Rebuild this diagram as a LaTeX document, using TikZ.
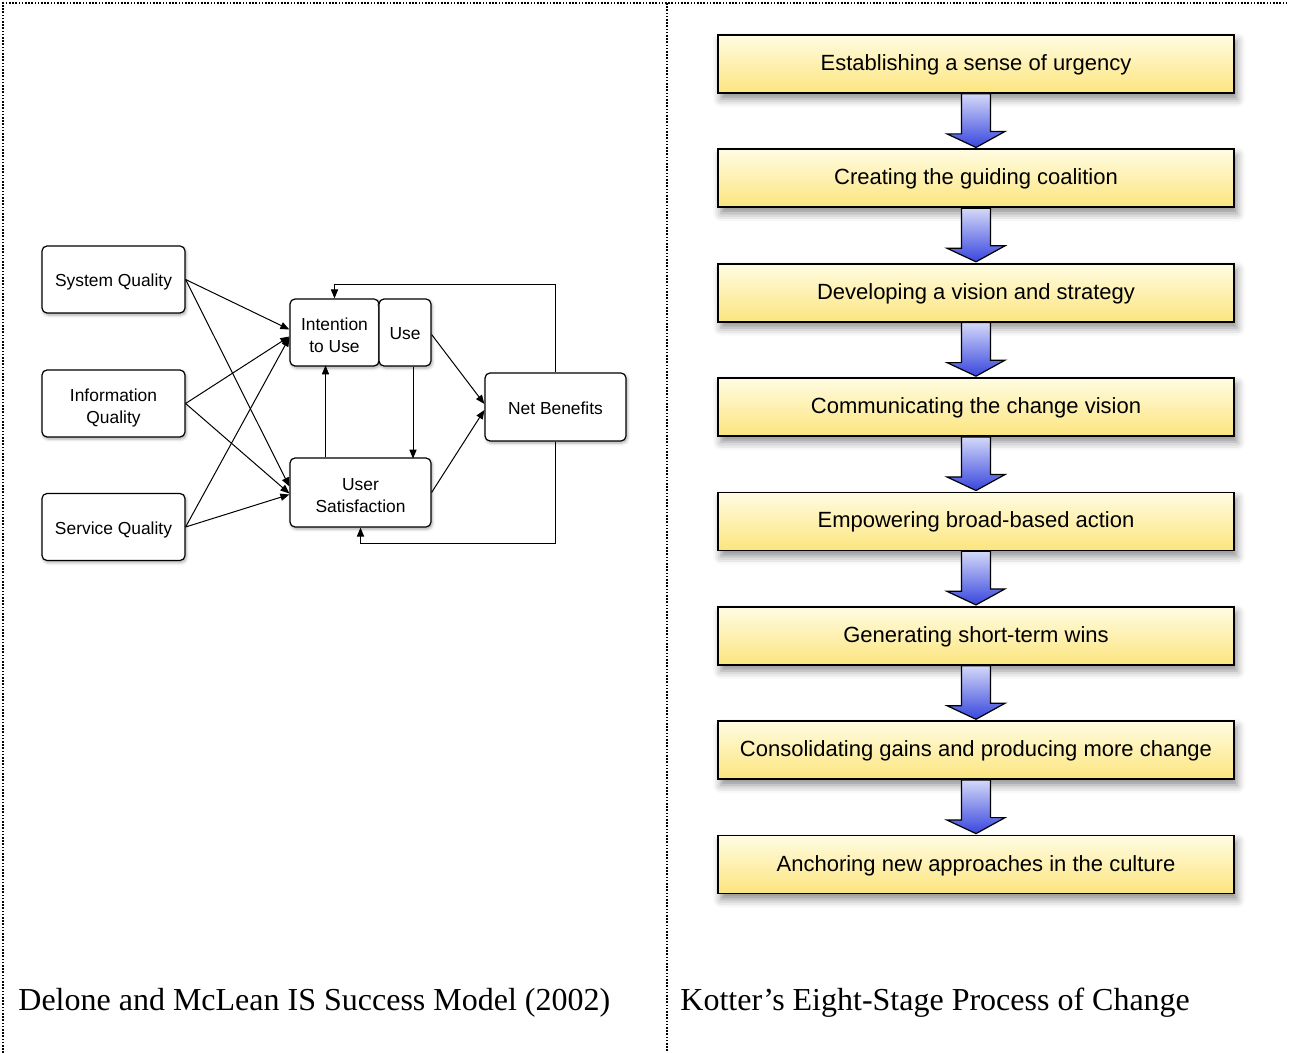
\documentclass[tikz,border=0pt]{standalone}
\usepackage{fontspec}
\setmainfont{Liberation Serif}
\newfontfamily\diagfont{Liberation Sans}
\usetikzlibrary{arrows.meta,calc,shadows.blur}

\definecolor{paleyellow}{RGB}{255,252,226}
\definecolor{deepyellow}{RGB}{252,229,126}
\definecolor{paleblue}{RGB}{212,216,248}
\definecolor{deepblue}{RGB}{55,70,222}

\tikzset{
  model/.style={draw, line width=0.6pt, rounded corners=2.5pt, fill=white, align=center,
    inner sep=0pt, text height=7.2pt, text depth=0pt, font=\diagfont\fontsize{8.7}{11}\selectfont,
    blur shadow={shadow xshift=0.6pt, shadow yshift=-1pt, shadow blur radius=1.5pt, shadow opacity=35}},
  twoline/.style={text height=20pt, text depth=0pt},
  flow/.style={-{Triangle[length=4.5pt,width=3.6pt]}, line width=0.5pt},
  stagebox/.style={draw, line width=0.9pt, top color=paleyellow, bottom color=deepyellow,
    minimum width=258pt, minimum height=29pt, inner sep=0pt, text height=8pt, text depth=1.5pt,
    font=\diagfont\fontsize{11}{13}\selectfont,
    blur shadow={shadow xshift=1.5pt, shadow yshift=-3pt, shadow blur radius=4pt, shadow opacity=45}},
  stagearrow/.style={draw, line width=0.6pt, top color=paleblue, bottom color=deepblue},
  frame/.style={line width=0.7pt, dash pattern=on 0.8pt off 0.8pt},
  caption/.style={anchor=base west, inner sep=0pt, font=\fontsize{16}{19}\selectfont}
}

\begin{document}
\begin{tikzpicture}[x=0.5pt, y=-0.5pt]
\useasboundingbox (0,0) rectangle (1289,1053);

% dotted frame
\draw[frame] (3,1053) -- (3,3) -- (1289,3);
\draw[frame] (667,3) -- (667,1053);

% Delone and McLean
\node[model, minimum width=71.5pt, minimum height=33.5pt] (sq) at (113.5,279.5) {System Quality};
\node[model, twoline, minimum width=71.5pt, minimum height=33.5pt] (iq) at (113.5,403.5) {Information\\Quality};
\node[model, minimum width=71.5pt, minimum height=33.5pt] (svq) at (113.5,527) {Service Quality};
\node[model, twoline, minimum width=44.5pt, minimum height=33.5pt] (itu) at (334.5,332.5) {Intention\\to Use};
\node[model, minimum width=26pt, minimum height=33.5pt] (use) at (405,332.5) {Use};
\node[model, twoline, minimum width=70.5pt, minimum height=34.5pt] (us) at (360.5,492.5) {User\\Satisfaction};
\node[model, minimum width=70.5pt, minimum height=34pt] (nb) at (555.5,407) {Net Benefits};

\draw[flow] (sq.east) -- ($(itu.west)+(0,-3)$);
\draw[flow] (iq.east) -- ($(itu.west)+(0,4)$);
\draw[flow] (svq.east) -- ($(itu.west)+(0,5)$);
\draw[flow] (sq.east) -- ($(us.west)+(0,-6)$);
\draw[flow] (iq.east) -- ($(us.west)+(0,1)$);
\draw[flow] (svq.east) -- ($(us.west)+(0,2)$);
\draw[flow] ([xshift=4pt]use.south) -- ++(0,92);
\draw[flow] ([xshift=-17.5pt]us.north) -- ++(0,-92);
\draw[flow] ($(use.east)+(0,2)$) -- ($(nb.west)+(0,-3)$);
\draw[flow] (us.east) -- ($(nb.west)+(0,3)$);
\draw[flow] (nb.north) |- ($(itu.north)+(0,-14)$) -- (itu.north);
\draw[flow] (nb.south) |- ($(us.south)+(0,16)$) -- (us.south);

% Kotter
\foreach \txt [count=\i] in {Establishing a sense of urgency, Creating the guiding coalition,
    Developing a vision and strategy, Communicating the change vision,
    Empowering broad-based action, Generating short-term wins,
    Consolidating gains and producing more change, Anchoring new approaches in the culture}
  \node[stagebox] (k\i) at (976,{64+114.36*(\i-1)}) {\txt};

\foreach \i in {1,...,7}{
  \pgfmathtruncatemacro{\j}{\i+1}
  \path[stagearrow] ($(k\i.south)+(-14.5,0)$) -- ++(0,40) -- ++(-14.5,0)
    -- ($(k\j.north)+(0,-1)$) -- ++(29,-16) -- ++(-14.5,0)
    -- ($(k\i.south)+(14.5,0)$) -- cycle;
}

% captions
\node[caption] (lcap) at (18,1010) {Delone and McLean IS Success Model (2002)};
\node[caption] (rcap) at (680,1010) {Kotter’s Eight-Stage Process of Change};
\end{tikzpicture}
\end{document}
